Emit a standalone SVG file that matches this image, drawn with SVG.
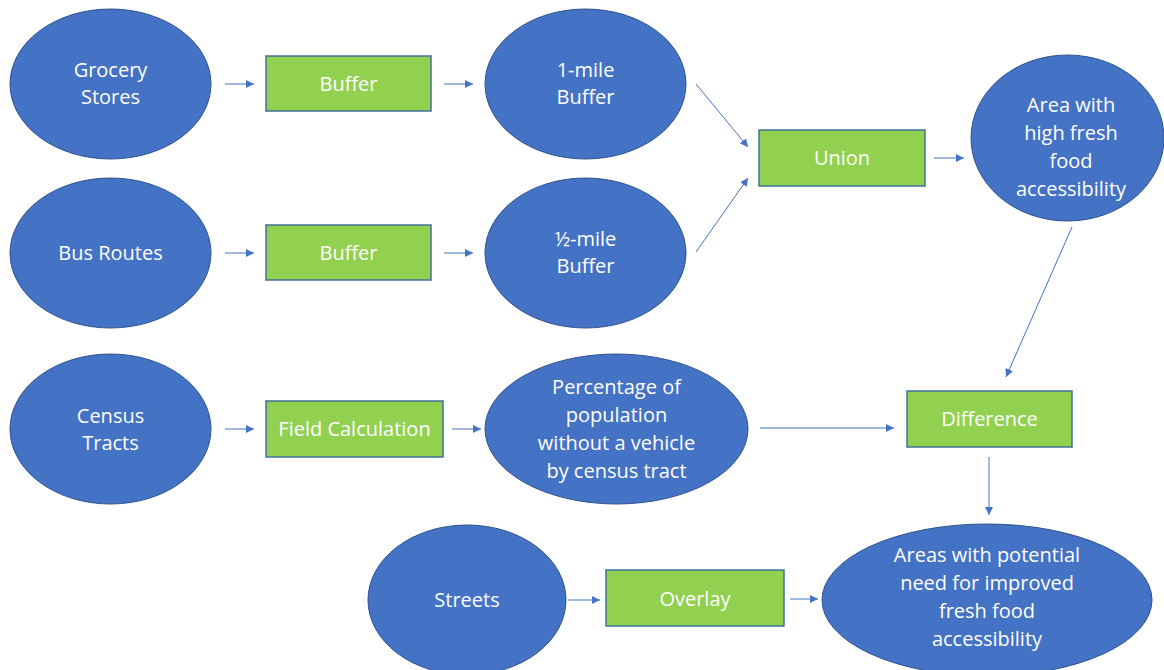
<svg xmlns="http://www.w3.org/2000/svg" width="1164" height="670" viewBox="0 0 1164 670">
<defs>
<marker id="ah" viewBox="0 0 10 10" refX="10" refY="5" markerWidth="8" markerHeight="8" markerUnits="userSpaceOnUse" orient="auto">
<path d="M0,0 L10,5 L0,10 z" fill="#4472C4"/>
</marker>
<style>
.e{fill:#4472C4;stroke:#2F528F;stroke-width:1}
.r{fill:#92D050;stroke:#41719C;stroke-width:1.5}
.t{font-family:"Open Sans","Noto Sans",sans-serif;font-size:20px;fill:#fff;text-anchor:middle}
.c{stroke:#4472C4;stroke-width:1;fill:none;marker-end:url(#ah)}
</style>
</defs>
<rect width="1164" height="670" fill="#fff"/>
<g id="grocery"><ellipse class="e" cx="110.5" cy="84" rx="100.5" ry="75"/><text class="t" x="110.5" y="77">Grocery</text><text class="t" x="110.5" y="104">Stores</text></g>
<g id="bus"><ellipse class="e" cx="110.5" cy="253" rx="100.5" ry="75"/><text class="t" x="110.5" y="260">Bus Routes</text></g>
<g id="census"><ellipse class="e" cx="110.5" cy="429" rx="100.5" ry="75"/><text class="t" x="110.5" y="423">Census</text><text class="t" x="110.5" y="450">Tracts</text></g>
<g id="buffer1"><rect class="r" x="266" y="56" width="165" height="55"/><text class="t" x="348.5" y="91">Buffer</text></g>
<g id="buffer2"><rect class="r" x="266" y="225" width="165" height="55"/><text class="t" x="348.5" y="260">Buffer</text></g>
<g id="fieldcalc"><rect class="r" x="266" y="401" width="177" height="56"/><text class="t" x="354.5" y="436">Field Calculation</text></g>
<g id="mile1"><ellipse class="e" cx="585.5" cy="84" rx="100.5" ry="75"/><text class="t" x="585.5" y="77">1-mile</text><text class="t" x="585.5" y="104">Buffer</text></g>
<g id="halfmile"><ellipse class="e" cx="585.5" cy="253" rx="100.5" ry="75"/><text class="t" x="585.5" y="246">½-mile</text><text class="t" x="585.5" y="273">Buffer</text></g>
<g id="percentage"><ellipse class="e" cx="616.5" cy="429" rx="131.5" ry="75"/><text class="t" x="616.5" y="394">Percentage of</text><text class="t" x="616.5" y="422">population</text><text class="t" x="616.5" y="450">without a vehicle</text><text class="t" x="616.5" y="478">by census tract</text></g>
<g id="union"><rect class="r" x="759" y="130" width="166" height="56"/><text class="t" x="842" y="165">Union</text></g>
<g id="highaccess"><ellipse class="e" cx="1067.5" cy="138" rx="96.5" ry="83"/><text class="t" x="1071" y="112">Area with</text><text class="t" x="1071" y="140">high fresh</text><text class="t" x="1071" y="168">food</text><text class="t" x="1071" y="196">accessibility</text></g>
<g id="difference"><rect class="r" x="907" y="391" width="165" height="56"/><text class="t" x="989.5" y="426">Difference</text></g>
<g id="streets"><ellipse class="e" cx="467" cy="600" rx="99" ry="75"/><text class="t" x="467" y="607">Streets</text></g>
<g id="overlay"><rect class="r" x="606" y="570" width="178" height="56"/><text class="t" x="695" y="606">Overlay</text></g>
<g id="potential"><ellipse class="e" cx="987" cy="600" rx="165" ry="76"/><text class="t" x="987" y="562">Areas with potential</text><text class="t" x="987" y="590">need for improved</text><text class="t" x="987" y="618">fresh food</text><text class="t" x="987" y="646">accessibility</text></g>
<g id="connectors">
<line class="c" x1="225" y1="84" x2="254" y2="84"/>
<line class="c" x1="444" y1="84" x2="473" y2="84"/>
<line class="c" x1="225" y1="253" x2="254" y2="253"/>
<line class="c" x1="444" y1="253" x2="473" y2="253"/>
<line class="c" x1="225" y1="429" x2="254" y2="429"/>
<line class="c" x1="452" y1="429" x2="481" y2="429"/>
<line class="c" x1="696" y1="84" x2="748" y2="147"/>
<line class="c" x1="696" y1="252" x2="748" y2="178"/>
<line class="c" x1="934" y1="158" x2="964" y2="158"/>
<line class="c" x1="1072" y1="227" x2="1006" y2="377"/>
<line class="c" x1="760" y1="428" x2="894" y2="428"/>
<line class="c" x1="989" y1="457" x2="989" y2="515"/>
<line class="c" x1="568" y1="600" x2="600" y2="600"/>
<line class="c" x1="790" y1="599" x2="818" y2="599"/>
</g>
</svg>
